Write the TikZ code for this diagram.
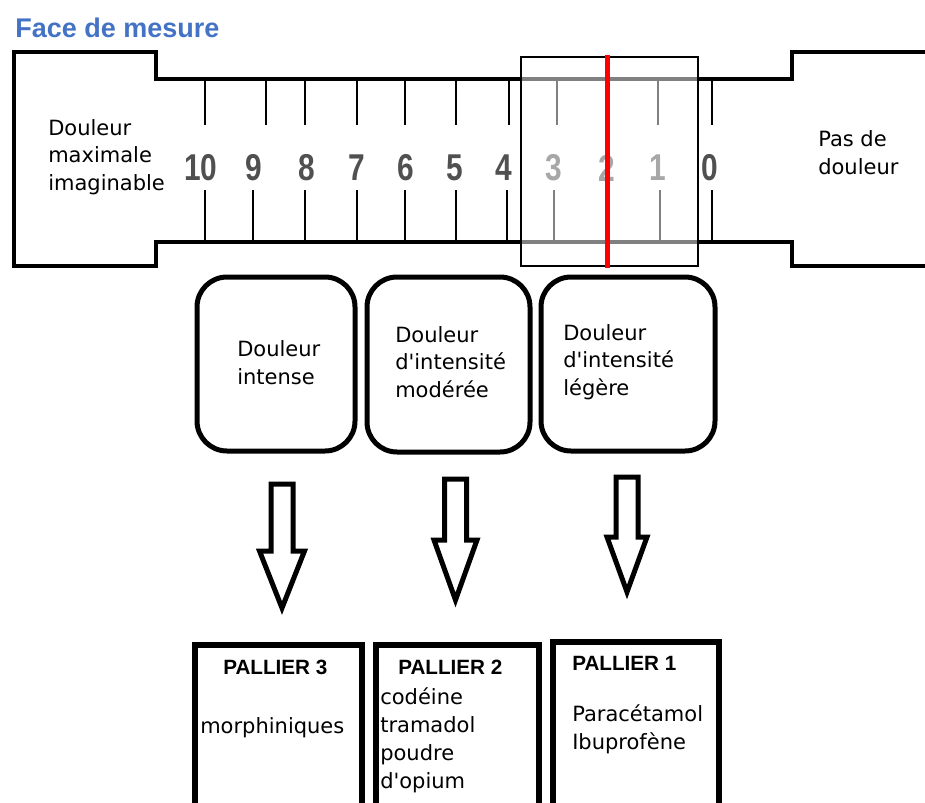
\documentclass[tikz,border=0pt]{standalone}
\usepackage{fontspec}
\setmainfont{DejaVu Sans}
\newfontfamily\arialfont{Liberation Sans}
\usepackage{xcolor}
\usepackage{tikz}
\definecolor{titleblue}{RGB}{68,114,196}
\definecolor{numgray}{RGB}{80,80,80}
\newcommand{\narrowdigit}[1]{\scalebox{0.8}[1]{#1}}

\begin{document}
\begin{tikzpicture}[x=0.75pt,y=0.75pt,yscale=-1,xscale=1,
  rulerline/.style={line width=3pt,line join=miter},
  tickline/.style={line width=2pt},
  rulernum/.style={font=\arialfont\bfseries\fontsize{28}{28}\selectfont,text=numgray,inner sep=0pt},
  lbl/.style={font=\fontsize{15.75}{20.6}\selectfont,align=left,inner sep=0pt,anchor=base west},
  painbox/.style={draw,line width=3.75pt,rounded corners=22.5pt,inner sep=0pt},
  pallierbox/.style={draw,line width=4.5pt,inner sep=0pt},
  pallier/.style={font=\arialfont\bfseries\fontsize{15.5}{18}\selectfont,inner sep=0pt,anchor=base west},
  downarrow/.style={line width=3.75pt,line join=miter}]
\useasboundingbox (0,0) rectangle (925,803);

% Title
\node[font=\arialfont\bfseries\fontsize{20.25}{24}\selectfont,text=titleblue,inner sep=0pt,anchor=base west] (titre) at (15,37) {Face de mesure};

%Ruler outline
\draw[rulerline] (925,52) -- (792,52) -- (792,79) -- (156,79) -- (156,52) -- (14,52) -- (14,266) -- (156,266) -- (156,242) -- (792,242) -- (792,266) -- (925,266);

%Ticks
\foreach \xt/\xb in {205/205,266/253,305/305,357/357,405/405,456/456,509/507,557/554,607/607,658/660,712/712} {
  \draw[tickline] (\xt,79) -- (\xt,125);
  \draw[tickline] (\xb,190) -- (\xb,242);
}

%Numbers
\foreach \n/\x in {10/201,9/254,8/307,7/357,6/406,5/455,4/504,3/554,2/607,1/658,0/710}
  \node[rulernum] (num\n) at (\x,168) {\narrowdigit{\n}};

% Text Node
\node[lbl] (maxlbl) at (48,190) {Douleur\\maximale\\imaginable};
% Text Node
\node[lbl] (nolbl) at (818,174) {Pas de\\douleur};

%Cursor window
\draw[line width=1.6pt,fill=white,fill opacity=0.5] (521,57) rectangle (698,266);
%Red cursor line
\draw[red,line width=3.75pt] (607,55) -- (607,268);

%Pain boxes
\node[painbox,minimum width=118.5pt,minimum height=130.5pt] (intense) at (276,364) {};
\node[painbox,minimum width=122.25pt,minimum height=131.25pt] (moderee) at (448.5,364.5) {};
\node[painbox,minimum width=130.5pt,minimum height=130.5pt] (legere) at (628,364) {};

\node[lbl] (intensetxt) at (237,384) {Douleur\\intense};
\node[lbl] (modereetxt) at (395,397) {Douleur\\d\textquotesingle intensité\\modérée};
\node[lbl] (legeretxt) at (563,395) {Douleur\\d\textquotesingle intensité\\légère};

%Down arrows
\foreach \ax/\at/\ah/\ap/\hw in {282/484/551/608/22.5,455.5/479/540/600/21.5,627/477/537/592/20}
  \draw[downarrow] (\ax-11,\at) -- (\ax+11,\at) -- (\ax+11,\ah) -- (\ax+\hw,\ah) -- (\ax,\ap) -- (\ax-\hw,\ah) -- (\ax-11,\ah) -- cycle;

%Pallier boxes
\node[pallierbox,minimum width=125.25pt,minimum height=120.75pt] (p3) at (278.5,725.5) {};
\node[pallierbox,minimum width=122.25pt,minimum height=120.75pt] (p2) at (457.5,725.5) {};
\node[pallierbox,minimum width=124.5pt,minimum height=123pt] (p1) at (636,724) {};

\node[pallier] (p3titre) at (223,674) {PALLIER 3};
\node[lbl] (p3txt) at (200,733) {morphiniques};
\node[pallier] (p2titre) at (398,674) {PALLIER 2};
\node[lbl,font=\fontsize{15.75}{20.8}\selectfont] (p2txt) at (380,788) {codéine\\tramadol\\poudre\\d\textquotesingle opium};
\node[pallier] (p1titre) at (572,670) {PALLIER 1};
\node[lbl] (p1txt) at (572,749) {Paracétamol\\Ibuprofène};

\end{tikzpicture}
\end{document}
